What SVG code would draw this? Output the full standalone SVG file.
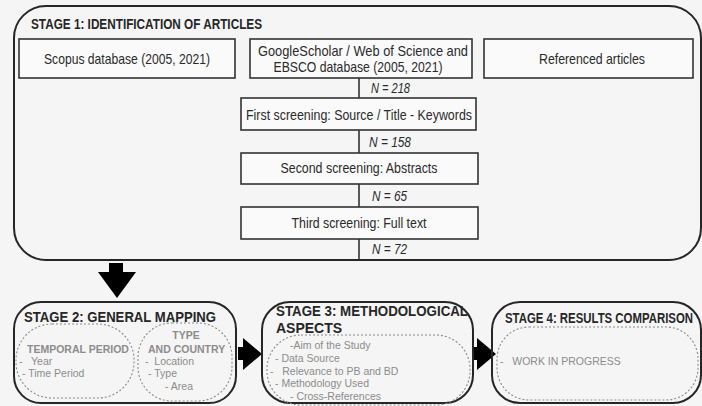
<svg xmlns="http://www.w3.org/2000/svg" width="702" height="406" viewBox="0 0 702 406">
<style>
.bg{fill:#f5f5f5}
.stage{fill:none;stroke:#262626;stroke-width:2}
.box{fill:#fafafa;stroke:#333;stroke-width:1.6}
.dash{fill:none;stroke:#8a8a8a;stroke-width:1.1;stroke-dasharray:2 2}
.conn{stroke:#333;stroke-width:1.6;fill:none}
.arrow{fill:#000}
.t{font-family:"Liberation Sans",Arial,sans-serif;fill:#2a2a2a;font-size:14.5px}
.title{font-family:"Liberation Sans",Arial,sans-serif;fill:#262626;font-weight:bold;font-size:14px}
.n{font-family:"Liberation Sans",Arial,sans-serif;fill:#2a2a2a;font-size:14px;font-style:italic}
.g{font-family:"Liberation Sans",Arial,sans-serif;fill:#8c8c8c;font-size:10.5px}
.gb{font-family:"Liberation Sans",Arial,sans-serif;fill:#8c8c8c;font-size:10.5px;font-weight:bold}
</style>
<rect class="bg" x="0" y="0" width="702" height="406"/>

<g id="stage1">
<rect class="stage" x="14" y="6" width="687" height="254" rx="32"/>
<text class="title" x="31" y="29" textLength="231" lengthAdjust="spacingAndGlyphs">STAGE 1: IDENTIFICATION OF ARTICLES</text>
</g>

<g id="scopus">
<rect class="box" x="19" y="39" width="216" height="39"/>
<text class="t" x="127" y="64" text-anchor="middle" textLength="166" lengthAdjust="spacingAndGlyphs">Scopus database (2005, 2021)</text>
</g>
<g id="google">
<rect class="box" x="250" y="39" width="222" height="39"/>
<text class="t" x="363" y="56" text-anchor="middle" textLength="210" lengthAdjust="spacingAndGlyphs">GoogleScholar / Web of Science and</text>
<text class="t" x="358" y="72" text-anchor="middle" textLength="169" lengthAdjust="spacingAndGlyphs">EBSCO database (2005, 2021)</text>
</g>
<g id="referenced">
<rect class="box" x="484" y="39" width="209" height="39"/>
<text class="t" x="592" y="64" text-anchor="middle" textLength="106" lengthAdjust="spacingAndGlyphs">Referenced articles</text>
</g>
<g id="first">
<rect class="box" x="241" y="98" width="235" height="32"/>
<text class="t" x="359" y="120" text-anchor="middle" textLength="226" lengthAdjust="spacingAndGlyphs">First screening: Source / Title - Keywords</text>
</g>
<g id="second">
<rect class="box" x="241" y="153" width="237" height="31"/>
<text class="t" x="359" y="173" text-anchor="middle" textLength="157" lengthAdjust="spacingAndGlyphs">Second screening: Abstracts</text>
</g>
<g id="third">
<rect class="box" x="241" y="207" width="237" height="32"/>
<text class="t" x="359" y="228" text-anchor="middle" textLength="135" lengthAdjust="spacingAndGlyphs">Third screening: Full text</text>
</g>

<g id="connectors">
<line class="conn" x1="359" y1="78" x2="359" y2="98"/>
<line class="conn" x1="359" y1="130" x2="359" y2="153"/>
<line class="conn" x1="359" y1="184" x2="359" y2="207"/>
<line class="conn" x1="359" y1="239" x2="359" y2="260"/>
<text class="n" x="371" y="93" textLength="39" lengthAdjust="spacingAndGlyphs">N = 218</text>
<text class="n" x="369" y="147" textLength="42" lengthAdjust="spacingAndGlyphs">N = 158</text>
<text class="n" x="372" y="201" textLength="35" lengthAdjust="spacingAndGlyphs">N = 65</text>
<text class="n" x="372" y="254" textLength="35" lengthAdjust="spacingAndGlyphs">N = 72</text>
<polygon class="arrow" points="109,263 123,263 123,272 136,272 117,298 98,272 109,272"/>
<polygon class="arrow" points="238,347 243,347 243,338 262,354 243,370 243,360 238,360"/>
<polygon class="arrow" points="473,347 477,347 477,338 496,354 477,370 477,360 473,360"/>
</g>

<g id="stage2">
<rect class="stage" x="14" y="302" width="222" height="101" rx="27"/>
<text class="title" x="24" y="322" textLength="192" lengthAdjust="spacingAndGlyphs">STAGE 2: GENERAL MAPPING</text>
<rect class="dash" x="16" y="324" width="118" height="74" rx="36"/>
<rect class="dash" x="138" y="323" width="94" height="78" rx="34"/>
<text class="gb" x="27" y="353">TEMPORAL PERIOD</text>
<text class="g" x="19" y="365" xml:space="preserve">-   Year</text>
<text class="g" x="22" y="377">- Time Period</text>
<text class="gb" x="186" y="339" text-anchor="middle">TYPE</text>
<text class="gb" x="148" y="353">AND COUNTRY</text>
<text class="g" x="145" y="365" xml:space="preserve">-  Location</text>
<text class="g" x="148" y="377">- Type</text>
<text class="g" x="165" y="390">- Area</text>
</g>

<g id="stage3">
<rect class="stage" x="262" y="302" width="211" height="101" rx="28"/>
<text class="title" x="276" y="316" textLength="192" lengthAdjust="spacingAndGlyphs">STAGE 3: METHODOLOGICAL</text>
<text class="title" x="276" y="333">ASPECTS</text>
<rect class="dash" x="267" y="335" width="203" height="70" rx="34"/>
<text class="g" x="290" y="349">-Aim of the Study</text>
<text class="g" x="275" y="362">- Data Source</text>
<text class="g" x="270" y="375" xml:space="preserve">-   Relevance to PB and BD</text>
<text class="g" x="275" y="387">- Methodology Used</text>
<text class="g" x="290" y="400">- Cross-References</text>
</g>

<g id="stage4">
<rect class="stage" x="492" y="302" width="209" height="101" rx="28"/>
<text class="title" x="505" y="323" textLength="188" lengthAdjust="spacingAndGlyphs">STAGE 4: RESULTS COMPARISON</text>
<rect class="dash" x="497" y="327" width="201" height="73" rx="32"/>
<text class="g" x="500" y="365" xml:space="preserve">-   WORK IN PROGRESS</text>
</g>
</svg>
